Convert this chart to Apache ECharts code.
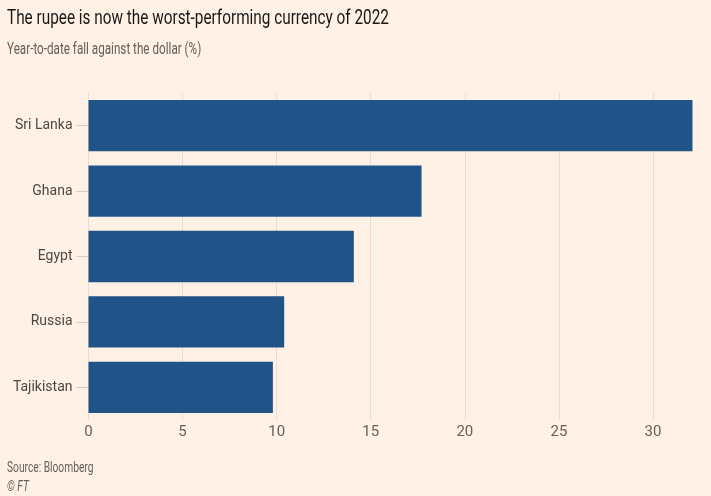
<!DOCTYPE html>
<html><head><meta charset="utf-8">
<script src="https://cdn.jsdelivr.net/npm/echarts@6/dist/echarts.min.js"></script>
<style>html,body{margin:0;padding:0;background:#fff1e5;}#c{width:711px;height:496px;}</style>
</head><body><div id="c"></div>
<script>
const categories = ["Sri Lanka", "Ghana", "Egypt", "Russia", "Tajikistan"];
const values = [32.1, 17.7, 14.1, 10.4, 9.8];
const xTicks = [0, 5, 10, 15, 20, 25, 30];
const titleText = 'The rupee is now the worst-performing currency of 2022';
const subtitleText = 'Year-to-date fall against the dollar (%)';
const sourceText = 'Source: Bloomberg';
const creditText = '© FT';

const FONT = 'Roboto, sans-serif';
const SX = 0.73;
function txt(text, x, y, size, color, italic) {
  return {type: 'text', x: x, y: y, scaleX: SX, scaleY: 1, silent: true,
    style: {text: text, x: 0, y: 0, fill: color, textVerticalAlign: 'middle',
      font: (italic ? 'italic ' : '') + size + 'px ' + FONT}};
}
const chart = echarts.init(document.getElementById('c'), null, {renderer: 'canvas'});
chart.setOption({
  backgroundColor: '#fff1e5',
  animation: false,
  graphic: [
    txt(titleText, 7, 19, 21, '#1a1817'),
    txt(subtitleText, 7, 50, 16, '#66605c'),
    txt(sourceText, 7, 468, 14, '#66605c'),
    txt(creditText, 7, 487, 14, '#66605c', true)
  ],
  grid: {left: 88.5, right: 11, top: 93, bottom: 76, containLabel: false},
  xAxis: {
    type: 'value', min: 0, max: 32.5, interval: 5,
    axisLine: {show: false}, axisTick: {show: false},
    axisLabel: {fontFamily: FONT, fontSize: 15, color: '#66605c', margin: 5, showMaxLabel: false,
      formatter: v => xTicks.includes(v) ? String(v) : ''},
    splitLine: {show: true, showMinLine: true, showMaxLine: false, lineStyle: {color: '#e9dcd3', width: 1}}
  },
  yAxis: {
    type: 'category', data: categories, inverse: true,
    axisLine: {show: false},
    axisTick: {show: true, alignWithLabel: true, length: 12, lineStyle: {color: '#d9ccc2'}},
    axisLabel: {fontFamily: FONT, fontSize: 14, color: '#4d4845', margin: 16}
  },
  series: [{
    type: 'bar', data: values, barCategoryGap: '21.5%',
    itemStyle: {color: '#205489'}
  }]
});
</script></body></html>
